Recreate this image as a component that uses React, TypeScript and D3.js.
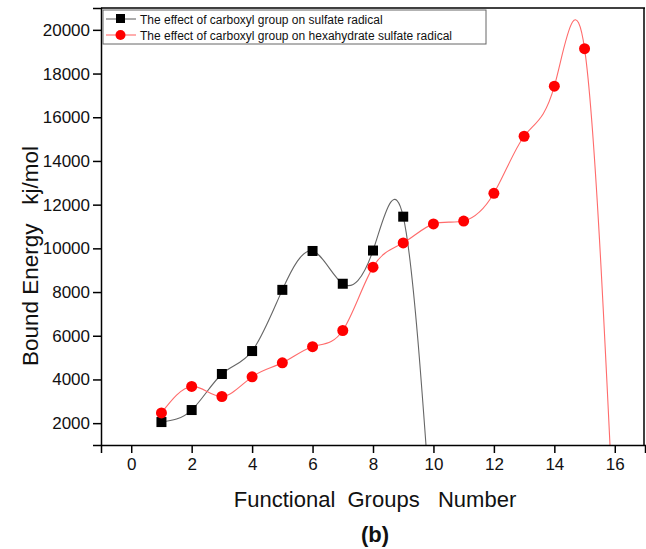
import React, { useEffect, useRef } from "react";
import * as d3 from "d3";

// carboxyl group on sulfate radical
const sulfateGroups = [1, 2, 3, 4, 5, 6, 7, 8, 9];
const sulfateEnergy = [2050, 2600, 4250, 5300, 8100, 9880, 8380, 9900, 11450];
// where the fitted curve ends up below the plot after the last point
const sulfateExit = [9.95, -2800];

// carboxyl group on hexahydrate sulfate radical
const hexaGroups = [1, 2, 3, 4, 5, 6, 7, 8, 9, 10, 11, 12, 13, 14, 15];
const hexaEnergy = [
  2470, 3680, 3220, 4120, 4760, 5500, 6240, 9140, 10250, 11120, 11250, 12520,
  15130, 17420, 19140,
];
const hexaExit = [15.98, -3000];

const xMajor = [0, 2, 4, 6, 8, 10, 12, 14, 16];
const xMinor = [-1, 1, 3, 5, 7, 9, 11, 13, 15, 17];
const yMajor = [2000, 4000, 6000, 8000, 10000, 12000, 14000, 16000, 18000, 20000];
const yMinor = [1000, 3000, 5000, 7000, 9000, 11000, 13000, 15000, 17000, 19000, 21000];

const legendLabels = [
  "The effect of carboxyl group on sulfate radical",
  "The effect of carboxyl group on hexahydrate sulfate radical",
];

const W = 646;
const H = 549;
const left = 101;
const right = 645;
const top = 8;
const bottom = 445;
const font = "'Liberation Sans', Arial, sans-serif";

const x = d3.scaleLinear().domain([-1, 17]).range([left, right]);
const y = d3.scaleLinear().domain([1000, 21000]).range([bottom, top]);

const line = d3
  .line<number[]>()
  .x(d => x(d[0]))
  .y(d => y(d[1]))
  .curve(d3.curveNatural);

const App = () => {
  const axRef = useRef<SVGGElement>(null);

  useEffect(() => {
    const g = d3.select(axRef.current);
    g.selectAll("*").remove();

    const xa = g.append("g").attr("transform", `translate(0,${bottom})`);
    xa.call(d3.axisBottom(x).tickValues(xMinor).tickSize(4).tickFormat(() => ""));
    xa.call(d3.axisBottom(x).tickValues(xMajor).tickSize(8).tickPadding(5).tickFormat(d3.format("d")));

    const ya = g.append("g").attr("transform", `translate(${left},0)`);
    ya.call(d3.axisLeft(y).tickValues(yMinor).tickSize(4).tickFormat(() => ""));
    ya.call(d3.axisLeft(y).tickValues(yMajor).tickSize(8).tickPadding(3).tickFormat(d3.format("d")));

    g.selectAll(".domain").attr("stroke", "#000").attr("stroke-width", 1.5);
    g.selectAll(".tick line").attr("stroke", "#000").attr("stroke-width", 1.5);
    g.selectAll(".tick text")
      .attr("font-family", font)
      .attr("font-size", 17)
      .attr("fill", "#111");
  }, []);

  const sulfatePts = sulfateGroups.map((g, i) => [g, sulfateEnergy[i]]);
  const hexaPts = hexaGroups.map((g, i) => [g, hexaEnergy[i]]);

  return (
    <div style={{ position: "absolute", left: 0, top: 0 }}>
      <svg width={W} height={H} style={{ display: "block", background: "#fff" }}>
        <defs>
          <clipPath id="plotClip">
            <rect x={left} y={top} width={right - left} height={bottom - top} />
          </clipPath>
        </defs>
        <g clipPath="url(#plotClip)">
          <path d={line([...sulfatePts, sulfateExit]) || ""} fill="none" stroke="#666" strokeWidth={1.1} />
          <path d={line([...hexaPts, hexaExit]) || ""} fill="none" stroke="#ff6b6b" strokeWidth={1.1} />
        </g>
        {sulfatePts.map((d, i) => (
          <rect key={"s" + i} x={x(d[0]) - 5} y={y(d[1]) - 5} width={10} height={10} fill="#000" />
        ))}
        {hexaPts.map((d, i) => (
          <circle key={"h" + i} cx={x(d[0])} cy={y(d[1])} r={5.5} fill="#ff0000" />
        ))}

        {/* frame */}
        <line x1={left} x2={right} y1={top} y2={top} stroke="#000" strokeWidth={1.5} />
        <line x1={right - 1} x2={right - 1} y1={top} y2={bottom} stroke="#000" strokeWidth={1.5} />
        <g ref={axRef} />

        {/* legend */}
        <rect x={103} y={10} width={383} height={34} fill="#fff" stroke="#666" strokeWidth={1} />
        <line x1={106} x2={136} y1={19} y2={19} stroke="#666" strokeWidth={1.1} />
        <rect x={116} y={14} width={9} height={9} fill="#000" />
        <text x={140} y={23.5} fontFamily={font} fontSize={12} fill="#111">{legendLabels[0]}</text>
        <line x1={106} x2={136} y1={35} y2={35} stroke="#ff6b6b" strokeWidth={1.1} />
        <circle cx={120.5} cy={35} r={5} fill="#ff0000" />
        <text x={140} y={39.5} fontFamily={font} fontSize={12} fill="#111">{legendLabels[1]}</text>

        {/* axis titles */}
        <text
          transform={`translate(38,256) rotate(-90)`}
          textAnchor="middle"
          fontFamily={font}
          fontSize={22.5}
          fill="#111"
          style={{ whiteSpace: "pre" }}
        >
          {"Bound Energy   kj/mol"}
        </text>
        <text
          x={375}
          y={507}
          textAnchor="middle"
          fontFamily={font}
          fontSize={22}
          fill="#111"
          style={{ whiteSpace: "pre" }}
        >
          {"Functional  Groups   Number"}
        </text>
        <text x={375} y={542} textAnchor="middle" fontFamily={font} fontSize={22} fontWeight="bold" fill="#111">
          (b)
        </text>
      </svg>
    </div>
  );
};

export default App;
